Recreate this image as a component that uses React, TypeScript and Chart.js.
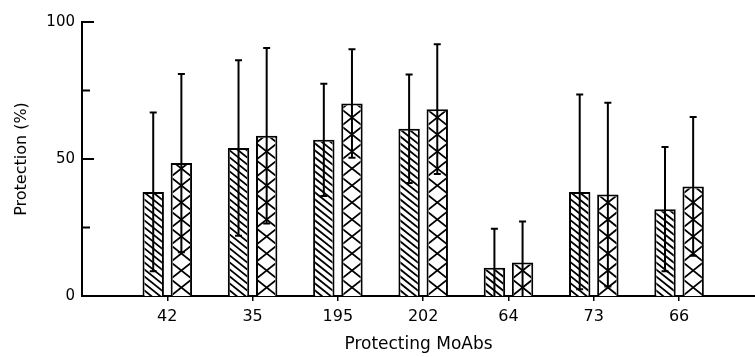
import React, { useEffect, useRef } from 'react';
import { Chart, registerables } from 'chart.js';

Chart.register(...registerables);

// ---- data ----
const categories = ['42', '35', '195', '202', '64', '73', '66'];
const hatchedMeans = [38, 54, 57, 61, 10.3, 38, 31.7];
const hatchedSD = [29, 32, 20.5, 19.8, 14.2, 35.5, 22.7];
const crossMeans = [48.5, 58.5, 70.3, 68.2, 12.2, 37, 40];
const crossSD = [32.5, 32, 19.8, 23.7, 15, 33.5, 25.3];
const yTickValues = [0, 25, 50, 75, 100];
const yLabelledTicks = [0, 50, 100];
const xTitle = 'Protecting MoAbs';
const yTitle = 'Protection (%)';

const FONT = 'DejaVu Sans';

const decoPlugin = {
  id: 'deco',
  afterDatasetsDraw(chart: any) {
    const ctx = chart.ctx as CanvasRenderingContext2D;
    const yScale = chart.scales.y;
    const bw = 2;
    chart.data.datasets.forEach((ds: any, di: number) => {
      const meta = chart.getDatasetMeta(di);
      meta.data.forEach((bar: any) => {
        const { x, y, base, width } = bar.getProps(['x', 'y', 'base', 'width'], true);
        const left = x - width / 2;
        const right = x + width / 2;
        ctx.save();
        ctx.beginPath();
        ctx.rect(left + bw, y + bw, width - 2 * bw, base - y - bw);
        ctx.clip();
        ctx.strokeStyle = '#000';
        ctx.lineWidth = 1.8;
        ctx.beginPath();
        if (di === 0) {
          const rise = width * 0.8;
          for (let yy = base + rise; yy > y - rise; yy -= 7) {
            ctx.moveTo(left, yy - rise);
            ctx.lineTo(right, yy);
          }
        } else {
          const P = 17;
          for (let yy = base; yy > y - P; yy -= P) {
            ctx.moveTo(left, yy);
            ctx.lineTo(right, yy - P);
            ctx.moveTo(right, yy);
            ctx.lineTo(left, yy - P);
          }
        }
        ctx.stroke();
        ctx.restore();
      });
    });
    // error bars
    chart.data.datasets.forEach((ds: any, di: number) => {
      const meta = chart.getDatasetMeta(di);
      meta.data.forEach((bar: any, i: number) => {
        const mean = ds.means[i];
        const sd = ds.sds[i];
        const x = bar.x;
        const yTop = yScale.getPixelForValue(mean + sd);
        const lowVal = mean - sd;
        const yBot = yScale.getPixelForValue(Math.max(0, lowVal));
        ctx.save();
        ctx.strokeStyle = '#000';
        ctx.lineWidth = 2;
        ctx.beginPath();
        ctx.moveTo(x, yTop);
        ctx.lineTo(x, yBot);
        ctx.moveTo(x - 3.5, yTop);
        ctx.lineTo(x + 3.5, yTop);
        if (lowVal > 0) {
          ctx.moveTo(x - 3.5, yBot);
          ctx.lineTo(x + 3.5, yBot);
        }
        ctx.stroke();
        ctx.restore();
      });
    });
    // inward y ticks
    const ax = yScale.right;
    ctx.save();
    ctx.strokeStyle = '#000';
    ctx.lineWidth = 2;
    ctx.beginPath();
    yTickValues.forEach((v) => {
      const py = yScale.getPixelForValue(v);
      const len = yLabelledTicks.includes(v) ? 12 : 8;
      if (v !== 0) {
        ctx.moveTo(ax, py);
        ctx.lineTo(ax + len, py);
      }
    });
    ctx.stroke();
    ctx.restore();
  },
};

export default function App() {
  const canvasRef = useRef<HTMLCanvasElement | null>(null);

  useEffect(() => {
    if (!canvasRef.current) return;
    const chart = new Chart(canvasRef.current, {
      type: 'bar',
      data: {
        datasets: [
          {
            label: 'A',
            data: hatchedMeans.map((v, i) => ({ x: i + 1, y: v })),
            means: hatchedMeans,
            sds: hatchedSD,
            backgroundColor: '#fff',
            borderColor: '#000',
            borderWidth: 2,
            categoryPercentage: 0.66,
            barPercentage: 0.76,
          } as any,
          {
            label: 'B',
            data: crossMeans.map((v, i) => ({ x: i + 1, y: v })),
            means: crossMeans,
            sds: crossSD,
            backgroundColor: '#fff',
            borderColor: '#000',
            borderWidth: 2,
            categoryPercentage: 0.66,
            barPercentage: 0.76,
          } as any,
        ],
      },
      options: {
        animation: false,
        responsive: false,
        maintainAspectRatio: false,
        layout: { padding: { top: 22, left: 0, right: 0, bottom: 0 } },
        plugins: { legend: { display: false }, tooltip: { enabled: false } },
        scales: {
          x: {
            type: 'linear',
            min: 0,
            max: 7.89,
            offset: false,
            afterBuildTicks: (s: any) => {
              s.ticks = categories.map((_, i) => ({ value: i + 1 }));
            },
            afterFit: (s: any) => {
              s.height = 61;
            },
            ticks: {
              callback: (v: any) => categories[Number(v) - 1] ?? '',
              color: '#000',
              font: { family: FONT, size: 16 },
              padding: 6,
              maxRotation: 0,
              autoSkip: false,
            },
            grid: {
              display: true,
              offset: false,
              drawOnChartArea: false,
              drawTicks: true,
              tickLength: 5,
              color: '#000',
              lineWidth: 1.5,
            },
            border: { display: true, color: '#000', width: 2 },
            title: {
              display: true,
              text: xTitle,
              color: '#000',
              font: { family: FONT, size: 17 },
              padding: { top: 0, bottom: 2 },
            },
          },
          y: {
            type: 'linear',
            min: 0,
            max: 100,
            afterBuildTicks: (s: any) => {
              s.ticks = yTickValues.map((v) => ({ value: v }));
            },
            afterFit: (s: any) => {
              s.width = 82;
            },
            ticks: {
              callback: (v: any) => (yLabelledTicks.includes(Number(v)) ? String(v) : ''),
              color: '#000',
              font: { family: FONT, size: 15 },
              padding: 7,
            },
            grid: { display: false, drawTicks: false },
            border: { display: true, color: '#000', width: 2 },
            title: {
              display: true,
              text: yTitle,
              color: '#000',
              font: { family: FONT, size: 16 },
              padding: { top: 12, bottom: 0 },
            },
          },
        },
      } as any,
      plugins: [decoPlugin],
    });
    return () => chart.destroy();
  }, []);

  return (
    <div style={{ position: 'absolute', left: 0, top: 0, width: 755, height: 357, background: '#fff' }}>
      <canvas ref={canvasRef} width={755} height={357} />
    </div>
  );
}
